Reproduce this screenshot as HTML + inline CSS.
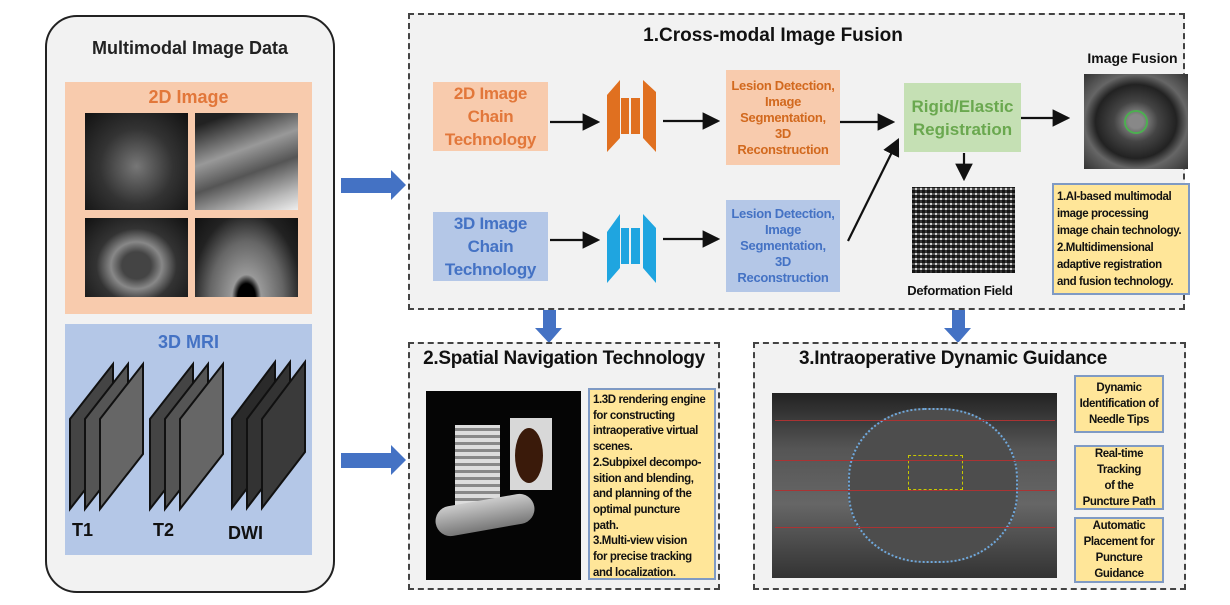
<!DOCTYPE html>
<html><head><meta charset="utf-8"><style>
*{margin:0;padding:0;box-sizing:border-box}
body{width:1230px;height:605px;background:#fff;position:relative;overflow:hidden;font-family:"Liberation Sans",sans-serif;font-weight:bold}
.a{position:absolute}
.c{display:flex;align-items:center;justify-content:center;text-align:center}
.dash{border:2px dashed #444;background:#f2f2f2}
.or{background:#f8cbad;color:#e2773a}
.bl{background:#b4c7e7;color:#4472c4}
.yel{background:#ffe699;border:2px solid #7f9ac4;color:#111;font-size:11.5px;line-height:16px;letter-spacing:-0.4px;white-space:nowrap;overflow:hidden}
.img{background:#222}
</style></head><body>
<!-- left panel -->
<div class="a" style="left:45px;top:15px;width:290px;height:578px;border:2px solid #222;border-radius:32px;background:#f2f2f2"></div>
<div class="a c" style="left:45px;top:38px;width:290px;font-size:18px;color:#222">Multimodal Image Data</div>
<div class="a or" style="left:65px;top:82px;width:247px;height:232px"></div>
<div class="a c" style="left:65px;top:87px;width:247px;font-size:18px;color:#e2773a">2D Image</div>
<div class="a img" style="left:85px;top:113px;width:103px;height:97px;background:radial-gradient(ellipse at 50% 55%,#777,#333 50%,#111)"></div>
<div class="a img" style="left:195px;top:113px;width:103px;height:97px;background:linear-gradient(160deg,#222 10%,#999 40%,#555 60%,#bbb 85%,#eee)"></div>
<div class="a img" style="left:85px;top:218px;width:103px;height:79px;background:radial-gradient(ellipse at 50% 60%,#444 20%,#888 35%,#333 55%,#111)"></div>
<div class="a img" style="left:195px;top:218px;width:103px;height:79px;background:radial-gradient(ellipse at 50% 100%,#000 12%,#999 20%,#666 50%,#222 75%,#111)"></div>
<div class="a bl" style="left:65px;top:324px;width:247px;height:231px"></div>
<div class="a c" style="left:65px;top:332px;width:247px;font-size:18px;color:#4472c4">3D MRI</div>
<svg class="a" style="left:65px;top:324px" width="247" height="231">
<g stroke="#111" stroke-width="2">
<polygon points="5,95 48,40 48,130 5,185" fill="#444"/><polygon points="20,95 63,40 63,130 20,185" fill="#555"/><polygon points="35,95 78,40 78,130 35,185" fill="#666"/>
<polygon points="85,95 128,40 128,130 85,185" fill="#444"/><polygon points="100,95 143,40 143,130 100,185" fill="#555"/><polygon points="115,95 158,40 158,130 115,185" fill="#666"/>
<polygon points="167,95 210,38 210,128 167,184" fill="#2a2a2a"/><polygon points="182,95 225,38 225,128 182,184" fill="#333"/><polygon points="197,95 240,38 240,128 197,184" fill="#3a3a3a"/>
</g></svg>
<div class="a" style="left:72px;top:520px;font-size:18px;color:#111">T1</div>
<div class="a" style="left:153px;top:520px;font-size:18px;color:#111">T2</div>
<div class="a" style="left:228px;top:523px;font-size:18px;color:#111">DWI</div>
<!-- blue arrows -->
<svg class="a" style="left:0;top:0" width="1230" height="605">
<g fill="#4472c4">
<polygon points="341,178 391,178 391,170 406,185 391,200 391,193 341,193"/>
<polygon points="341,453 391,453 391,445 406,460 391,475 391,468 341,468"/>
<polygon points="543,302 556,302 556,328 562,328 549,343 535,328 543,328"/>
<polygon points="952,302 965,302 965,328 971,328 958,343 944,328 952,328"/>
</g></svg>
<!-- box 1 -->
<div class="a dash" style="left:408px;top:13px;width:777px;height:297px"></div>
<div class="a c" style="left:408px;top:25px;width:730px;font-size:19px;color:#111">1.Cross-modal Image Fusion</div>
<div class="a c or" style="left:433px;top:82px;width:115px;height:69px;font-size:17px;line-height:23px;letter-spacing:-0.3px">2D Image<br>Chain<br>Technology</div>
<div class="a c bl" style="left:433px;top:212px;width:115px;height:69px;font-size:17px;line-height:23px;letter-spacing:-0.3px">3D Image<br>Chain<br>Technology</div>
<svg class="a" style="left:0;top:0" width="1230" height="605">
<defs><marker id="m" markerWidth="8" markerHeight="8" refX="7" refY="4" orient="auto"><path d="M0,0 L8,4 L0,8z" fill="#111"/></marker></defs>
<g stroke="#111" stroke-width="2.2" marker-end="url(#m)">
<line x1="550" y1="122" x2="598" y2="122"/><line x1="663" y1="121" x2="718" y2="121"/>
<line x1="840" y1="122" x2="893" y2="122"/><line x1="1020" y1="118" x2="1068" y2="118"/>
<line x1="550" y1="240" x2="598" y2="240"/><line x1="663" y1="239" x2="718" y2="239"/>
<line x1="848" y1="241" x2="898" y2="140"/><line x1="964" y1="153" x2="964" y2="179"/>
</g>
<g fill="#e07020"><polygon points="607,95 620,80 620,138 607,152"/><polygon points="643,80 656,92 656,152 643,138"/><rect x="621" y="98" width="8" height="36"/><rect x="631" y="98" width="9" height="36"/></g>
<g fill="#1fa5e0"><polygon points="607,232 620,214 620,268 607,283"/><polygon points="643,214 656,228 656,283 643,268"/><rect x="621" y="228" width="8" height="36"/><rect x="631" y="228" width="9" height="36"/></g>
</svg>
<div class="a c or" style="left:726px;top:70px;width:114px;height:95px;font-size:13px;line-height:16px;color:#d2691e;letter-spacing:-0.3px">Lesion Detection,<br>Image<br>Segmentation,<br>3D<br>Reconstruction</div>
<div class="a c bl" style="left:726px;top:200px;width:114px;height:92px;font-size:13px;line-height:16px;letter-spacing:-0.3px">Lesion Detection,<br>Image<br>Segmentation,<br>3D<br>Reconstruction</div>
<div class="a c" style="left:904px;top:83px;width:117px;height:69px;background:#c5e0b4;color:#6aa84f;font-size:17px;line-height:23px">Rigid/Elastic<br>Registration</div>
<div class="a c" style="left:1070px;top:50px;width:125px;font-size:14px;color:#111">Image Fusion</div>
<div class="a" style="left:1084px;top:74px;width:104px;height:95px;background:radial-gradient(ellipse at 50% 50%,#888 10%,#444 30%,#222 55%,#666 70%,#333)"></div>
<div class="a" style="left:1124px;top:110px;width:24px;height:24px;border:2px solid #4caf50;border-radius:50%"></div>
<div class="a" style="left:912px;top:187px;width:103px;height:86px;background:repeating-linear-gradient(0deg,#111 0 3px,#ccc 3px 5px),#222;opacity:.85"></div>
<div class="a" style="left:912px;top:187px;width:103px;height:86px;background:repeating-linear-gradient(90deg,rgba(0,0,0,.6) 0 3px,transparent 3px 5px)"></div>
<div class="a c" style="left:895px;top:283px;width:130px;font-size:13px;color:#111;letter-spacing:-0.3px">Deformation Field</div>
<div class="a yel" style="left:1052px;top:183px;width:138px;height:112px;padding:4px 3px;line-height:17px">1.AI-based multimodal<br>image processing<br>image chain technology.<br>2.Multidimensional<br>adaptive registration<br>and fusion technology.</div>
<!-- box 2 -->
<div class="a dash" style="left:408px;top:342px;width:312px;height:248px"></div>
<div class="a c" style="left:408px;top:348px;width:312px;font-size:19px;color:#111;letter-spacing:-0.3px">2.Spatial Navigation Technology</div>
<div class="a" style="left:426px;top:391px;width:155px;height:189px;background:#050505"></div>
<div class="a" style="left:455px;top:425px;width:45px;height:80px;background:repeating-linear-gradient(0deg,#ddd 0 4px,#888 4px 7px)"></div>
<div class="a" style="left:435px;top:500px;width:100px;height:30px;background:linear-gradient(#ccc,#777);border-radius:15px;transform:rotate(-10deg)"></div>
<div class="a" style="left:510px;top:418px;width:42px;height:72px;background:#d8d8d8"></div>
<div class="a" style="left:515px;top:428px;width:28px;height:55px;background:#3a1a0a;border-radius:50%"></div>
<div class="a yel" style="left:588px;top:388px;width:128px;height:192px;padding:3px 3px;line-height:15.7px">1.3D rendering engine<br>for constructing<br>intraoperative virtual<br>scenes.<br>2.Subpixel decompo-<br>sition and blending,<br>and planning of the<br>optimal puncture<br>path.<br>3.Multi-view vision<br>for precise tracking<br>and localization.</div>
<!-- box 3 -->
<div class="a dash" style="left:753px;top:342px;width:433px;height:248px"></div>
<div class="a c" style="left:753px;top:348px;width:430px;font-size:19px;color:#111;padding-right:30px;letter-spacing:-0.3px">3.Intraoperative Dynamic Guidance</div>
<div class="a" style="left:772px;top:393px;width:285px;height:185px;background:linear-gradient(#222,#555 30%,#666 60%,#333)"></div>
<div class="a" style="left:848px;top:408px;width:170px;height:155px;border:2px dotted #6fa8dc;border-radius:45%;background:#4d4d4d"></div>
<div class="a" style="left:908px;top:455px;width:55px;height:35px;border:1.5px dashed #c8c800"></div>
<div class="a" style="left:775px;top:420px;width:280px;height:1px;background:#a33"></div>
<div class="a" style="left:775px;top:460px;width:280px;height:1px;background:#a33"></div>
<div class="a" style="left:775px;top:490px;width:280px;height:1px;background:#a33"></div>
<div class="a" style="left:775px;top:527px;width:280px;height:1px;background:#a33"></div>
<div class="a yel c" style="left:1074px;top:375px;width:90px;height:58px;white-space:normal">Dynamic Identification of Needle Tips</div>
<div class="a yel c" style="left:1074px;top:445px;width:90px;height:65px;white-space:normal">Real-time Tracking<br>of the<br>Puncture Path</div>
<div class="a yel c" style="left:1074px;top:517px;width:90px;height:66px;white-space:normal">Automatic Placement for Puncture Guidance</div>
</body></html>
